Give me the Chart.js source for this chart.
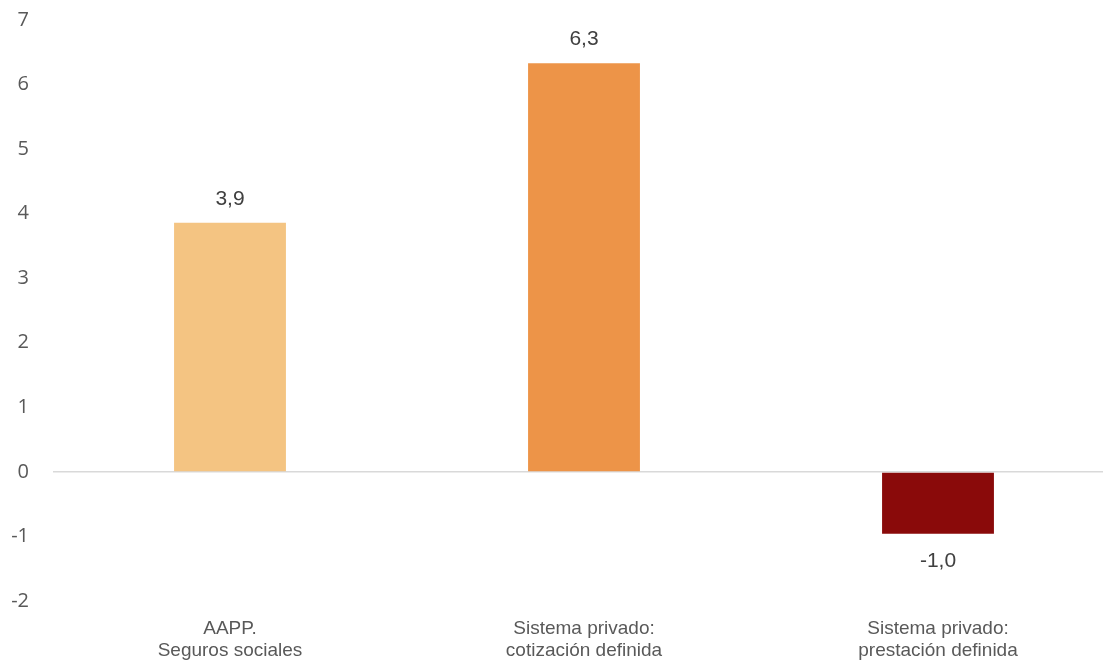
<!DOCTYPE html>
<html>
<head>
<meta charset="utf-8">
<script src="https://cdn.jsdelivr.net/npm/chart.js@4"></script>
<style>
  html, body { margin: 0; padding: 0; background: #fff; overflow: hidden; }
  #wrap { width: 1115px; height: 666px; }
</style>
</head>
<body>
<div id="wrap"><canvas id="chart"></canvas></div>
<script>
// Categories (two lines each) and values
const categories = [
    ['AAPP.', 'Seguros sociales'],
    ['Sistema privado:', 'cotización definida'],
    ['Sistema privado:', 'prestación definida']
];
const values = [3.86, 6.33, -0.96];
const barColors = ['#F4C482', '#ED9448', '#8A0A0A'];
const yTicks = [-2, -1, 0, 1, 2, 3, 4, 5, 6, 7];

// Small plugin to draw the value over / under each bar
const valueLabels = {
    id: 'valueLabels',
    afterDatasetsDraw(chart) {
        const ctx = chart.ctx;
        const meta = chart.getDatasetMeta(0);
        ctx.save();
        ctx.font = '21px "Liberation Sans", Arial, sans-serif';
        ctx.fillStyle = '#404040';
        ctx.textAlign = 'center';
        ctx.textBaseline = 'middle';
        meta.data.forEach((bar, i) => {
            const v = values[i];
            const text = v.toFixed(1).replace('.', ',');
            const y = v >= 0 ? bar.y - 24 : bar.y + 27;
            ctx.fillText(text, bar.x, y);
        });
        ctx.restore();
    }
};

let canvas = document.getElementById('chart');
let context = canvas.getContext('2d');

new Chart(context, {
    type: 'bar',
    data: {
        labels: categories,
        datasets: [
            {
                data: values,
                backgroundColor: barColors,
                borderWidth: 0,
                categoryPercentage: 1,
                barPercentage: 0.316
            }
        ]
    },
    options: {
        responsive: true,
        maintainAspectRatio: false,
        animation: false,
        layout: { padding: { top: 20, left: 0, right: 0, bottom: 0 } },
        plugins: {
            legend: { display: false },
            tooltip: { enabled: false }
        },
        scales: {
            x: {
                grid: { display: false, drawTicks: false },
                border: { display: false },
                ticks: {
                    color: '#595959',
                    font: { family: '"Liberation Sans", Arial, sans-serif', size: 19, lineHeight: 1.2 },
                    padding: 16,
                    maxRotation: 0
                },
                afterFit: s => { s.height = 65; s.paddingLeft = 0; s.paddingRight = 0; }
            },
            y: {
                min: -2,
                max: 7,
                afterBuildTicks: s => { s.ticks = yTicks.map(v => ({ value: v })); },
                grid: {
                    drawTicks: false,
                    color: c => (c.tick && c.tick.value === 0) ? '#D9D9D9' : 'rgba(0,0,0,0)',
                    lineWidth: 1.5
                },
                border: { display: false },
                ticks: {
                    color: '#595959',
                    font: { family: '"Open Sans", sans-serif', size: 20 },
                    padding: 24
                },
                afterFit: s => { s.width = 53; s.paddingTop = 0; s.paddingBottom = 0; }
            }
        }
    },
    plugins: [valueLabels]
});
</script>
</body>
</html>
